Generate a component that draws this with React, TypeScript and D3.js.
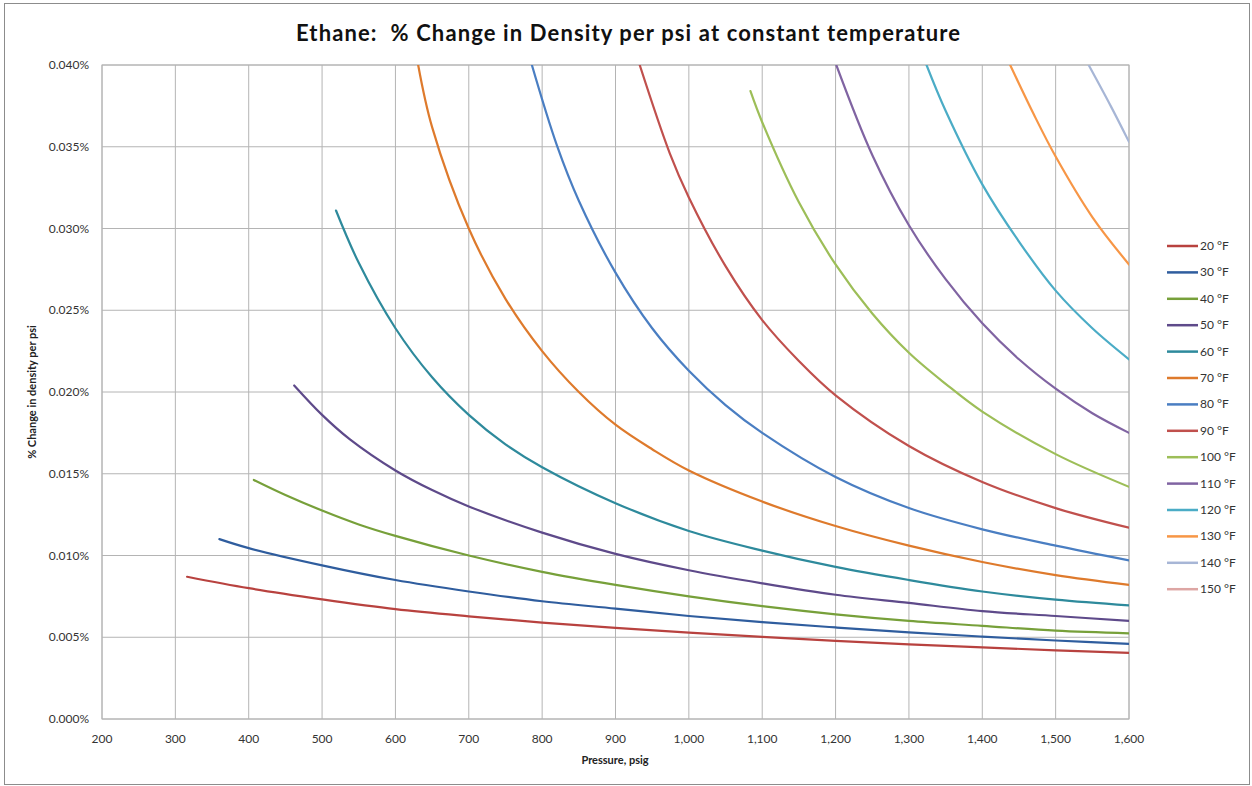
import React from "react";
import * as d3 from "d3";

// Pressure (psig) and % change in density per psi, one array per isotherm
const t20: [number, number][] = [[316, 0.0087], [400, 0.0080], [500, 0.00732], [600, 0.00672], [700, 0.00628], [800, 0.0059], [900, 0.00557], [1000, 0.00528], [1100, 0.00502], [1200, 0.00478], [1300, 0.00457], [1400, 0.00438], [1500, 0.0042], [1600, 0.00404]];
const t30: [number, number][] = [[360, 0.0110], [400, 0.01045], [500, 0.0094], [600, 0.0085], [700, 0.0078], [800, 0.0072], [900, 0.00675], [1000, 0.0063], [1100, 0.00592], [1200, 0.0056], [1300, 0.0053], [1400, 0.00504], [1500, 0.0048], [1600, 0.00459]];
const t40: [number, number][] = [[407, 0.01462], [450, 0.0137], [500, 0.01275], [550, 0.0119], [600, 0.0112], [700, 0.0100], [800, 0.0090], [900, 0.0082], [1000, 0.0075], [1100, 0.0069], [1200, 0.0064], [1300, 0.0060], [1400, 0.0057], [1500, 0.0054], [1600, 0.00524]];
const t50: [number, number][] = [[462, 0.0204], [500, 0.0186], [538, 0.0171], [600, 0.0152], [650, 0.0140], [700, 0.0130], [800, 0.0114], [900, 0.0101], [1000, 0.0091], [1100, 0.0083], [1200, 0.0076], [1300, 0.0071], [1400, 0.0066], [1500, 0.0063], [1600, 0.0060]];
const t60: [number, number][] = [[519, 0.0311], [550, 0.0279], [600, 0.0239], [650, 0.0209], [700, 0.0186], [750, 0.0168], [800, 0.0154], [900, 0.0132], [1000, 0.0115], [1100, 0.0103], [1200, 0.0093], [1300, 0.0085], [1400, 0.0078], [1500, 0.0073], [1600, 0.00695]];
const t70: [number, number][] = [[631, 0.0400], [650, 0.0362], [700, 0.0300], [750, 0.0257], [800, 0.0225], [850, 0.0200], [900, 0.0180], [950, 0.0165], [1000, 0.0152], [1100, 0.0133], [1200, 0.0118], [1300, 0.0106], [1400, 0.0096], [1500, 0.0088], [1600, 0.0082]];
const t80: [number, number][] = [[786, 0.0400], [820, 0.0351], [850, 0.0317], [900, 0.0273], [950, 0.0239], [1000, 0.0213], [1050, 0.0192], [1100, 0.0175], [1200, 0.0148], [1300, 0.0129], [1400, 0.0116], [1500, 0.0106], [1600, 0.0097]];
const t90: [number, number][] = [[933, 0.0400], [974, 0.0346], [1000, 0.0319], [1050, 0.0277], [1100, 0.0244], [1150, 0.0219], [1200, 0.0198], [1300, 0.0167], [1400, 0.0145], [1500, 0.0129], [1600, 0.0117]];
const t100: [number, number][] = [[1084, 0.0384], [1100, 0.0365], [1150, 0.0316], [1200, 0.0278], [1250, 0.0248], [1300, 0.0224], [1350, 0.0205], [1400, 0.0188], [1500, 0.0162], [1600, 0.0142]];
const t110: [number, number][] = [[1201, 0.0400], [1250, 0.0345], [1300, 0.0302], [1350, 0.0269], [1400, 0.0242], [1450, 0.0220], [1500, 0.0202], [1550, 0.0187], [1600, 0.0175]];
const t120: [number, number][] = [[1324, 0.0400], [1350, 0.0372], [1400, 0.0327], [1450, 0.0292], [1500, 0.0262], [1550, 0.0239], [1600, 0.0220]];
const t130: [number, number][] = [[1438, 0.0400], [1470, 0.0370], [1500, 0.0344], [1550, 0.0307], [1600, 0.0278]];
const t140: [number, number][] = [[1545, 0.0400], [1575, 0.0375], [1600, 0.0353]];
const t150: [number, number][] = [];

const seriesNames = ["20 °F", "30 °F", "40 °F", "50 °F", "60 °F", "70 °F", "80 °F", "90 °F", "100 °F", "110 °F", "120 °F", "130 °F", "140 °F", "150 °F"];
const seriesValues = [t20, t30, t40, t50, t60, t70, t80, t90, t100, t110, t120, t130, t140, t150];
const seriesColors = ["#B8423F", "#2F5D9E", "#77A03A", "#5E4A8A", "#2E8A9C", "#DE7A2C", "#4A7EC2", "#C0504D", "#9DBE58", "#8064A2", "#4BACC6", "#F79646", "#A7B6D6", "#DDA6A4"];

const xTicks = [200, 300, 400, 500, 600, 700, 800, 900, 1000, 1100, 1200, 1300, 1400, 1500, 1600];
const yTicks = [0, 0.005, 0.01, 0.015, 0.02, 0.025, 0.03, 0.035, 0.04];

const W = 1252;
const H = 786;
const plot = { left: 102, right: 1129, top: 65, bottom: 719 };
const font = "Lato, 'Open Sans', sans-serif";

export default function App() {
  const x = d3.scaleLinear().domain([200, 1600]).range([plot.left, plot.right]);
  const y = d3.scaleLinear().domain([0, 0.04]).range([plot.bottom, plot.top]);
  const line = d3
    .line<[number, number]>()
    .x((d) => x(d[0]))
    .y((d) => y(d[1]))
    .curve(d3.curveCatmullRom.alpha(0.5));
  const xFmt = d3.format(",");
  const yFmt = (v: number) => v.toFixed(3) + "%";

  return (
    <svg
      width={W}
      height={H}
      style={{ position: "absolute", left: 0, top: 0, background: "#fff" }}
    >
      <defs>
        <clipPath id="plotClip">
          <rect x={plot.left} y={plot.top} width={plot.right - plot.left} height={plot.bottom - plot.top} />
        </clipPath>
      </defs>
      <rect x={4.5} y={3.5} width={1245} height={781} fill="#fff" stroke="#8c8c8c" strokeWidth={1} />

      <text
        x={628}
        y={41}
        textAnchor="middle"
        fontFamily={font}
        fontWeight={700}
        fontSize={22}
        fill="#111"
        textLength={664}
        lengthAdjust="spacing"
        style={{ whiteSpace: "pre" }}
      >
        {"Ethane:  % Change in Density per psi at constant temperature"}
      </text>

      {/* grid */}
      {xTicks.map((t) => (
        <line key={"gx" + t} x1={x(t)} x2={x(t)} y1={plot.top} y2={plot.bottom} stroke="#b4b4b4" strokeWidth={1} />
      ))}
      {yTicks.map((t) => (
        <line key={"gy" + t} x1={plot.left} x2={plot.right} y1={y(t)} y2={y(t)} stroke="#b4b4b4" strokeWidth={1} />
      ))}
      <rect x={plot.left} y={plot.top} width={plot.right - plot.left} height={plot.bottom - plot.top} fill="none" stroke="#b4b4b4" />

      {/* tick labels */}
      {yTicks.map((t) => (
        <text key={"ly" + t} x={89} y={y(t) + 4} textAnchor="end" fontFamily={font} fontSize={12} fill="#333">
          {yFmt(t)}
        </text>
      ))}
      {xTicks.map((t) => (
        <text key={"lx" + t} x={x(t)} y={743} textAnchor="middle" fontFamily={font} fontSize={12} fill="#333">
          {xFmt(t)}
        </text>
      ))}

      <text x={615} y={764} textAnchor="middle" fontFamily={font} fontWeight={700} fontSize={11} fill="#222">
        Pressure, psig
      </text>
      <text
        transform={`translate(36, ${(plot.top + plot.bottom) / 2}) rotate(-90)`}
        textAnchor="middle"
        fontFamily={font}
        fontWeight={700}
        fontSize={11}
        fill="#222"
      >
        % Change in density per psi
      </text>

      {/* isotherms */}
      <g clipPath="url(#plotClip)">
        {seriesValues.map((vals, i) =>
          vals.length > 1 ? (
            <path key={"s" + i} d={line(vals) || ""} fill="none" stroke={seriesColors[i]} strokeWidth={2.2} strokeLinecap="round" />
          ) : null
        )}
      </g>

      {/* legend */}
      {seriesNames.map((name, i) => {
        const ly = 246 + i * 26.4;
        return (
          <g key={"lg" + i}>
            <line x1={1167} x2={1198} y1={ly} y2={ly} stroke={seriesColors[i]} strokeWidth={2.5} />
            <text x={1200} y={ly + 4} fontFamily={font} fontSize={12} fill="#333">
              {name}
            </text>
          </g>
        );
      })}
    </svg>
  );
}
